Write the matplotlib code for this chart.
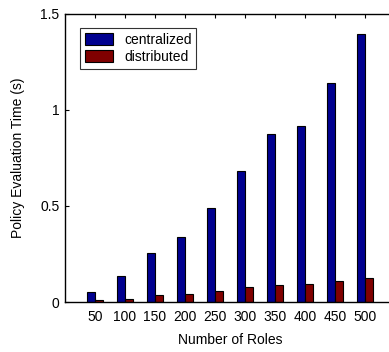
import matplotlib
matplotlib.use("Agg")
import matplotlib.pyplot as plt
import numpy as np

plt.rcParams['font.family'] = ['Liberation Sans', 'DejaVu Sans']

roles = ['50', '100', '150', '200', '250', '300', '350', '400', '450', '500']
centralized = [0.050, 0.135, 0.253, 0.336, 0.491, 0.681, 0.877, 0.919, 1.139, 1.396]
distributed = [0.010, 0.016, 0.035, 0.040, 0.057, 0.076, 0.088, 0.094, 0.111, 0.123]

fig = plt.figure(figsize=(3.89, 3.52), dpi=100)
ax = fig.add_axes([65/389, 1 - 302/352, (395-65)/389, (302-14)/352])

x = np.arange(1, len(roles) + 1)
w = 0.27
ax.bar(x - w/2, centralized, w, color='#00008F', edgecolor='black', linewidth=0.8, label='centralized')
ax.bar(x + w/2, distributed, w, color='#800000', edgecolor='black', linewidth=0.8, label='distributed')

ax.set_xlim(0, 11)
ax.set_ylim(0, 1.5)
ax.set_xticks(x)
ax.set_xticklabels(roles)
ax.set_yticks([0, 0.5, 1, 1.5])
ax.set_yticklabels(['0', '0.5', '1', '1.5'])
ax.tick_params(direction='in', top=True, right=False, labelsize=10, length=3, pad=6, width=0.8)
ax.tick_params(axis='y', pad=4)
ax.spines['right'].set_visible(False)
for s in ax.spines.values():
    s.set_linewidth(1.0)

ax.set_xlabel('Number of Roles', fontsize=10, labelpad=6)
ax.set_ylabel('Policy Evaluation Time (s)', fontsize=10, labelpad=11)

leg = ax.legend(loc='upper left', bbox_to_anchor=(0.025, 0.975), fontsize=10, frameon=True, fancybox=False,
                edgecolor='black', handlelength=2.0, handleheight=1.0, borderpad=0.35, labelspacing=0.2,
                handletextpad=0.8)
leg.get_frame().set_linewidth(0.8)

fig.savefig('out.png', dpi=100)
